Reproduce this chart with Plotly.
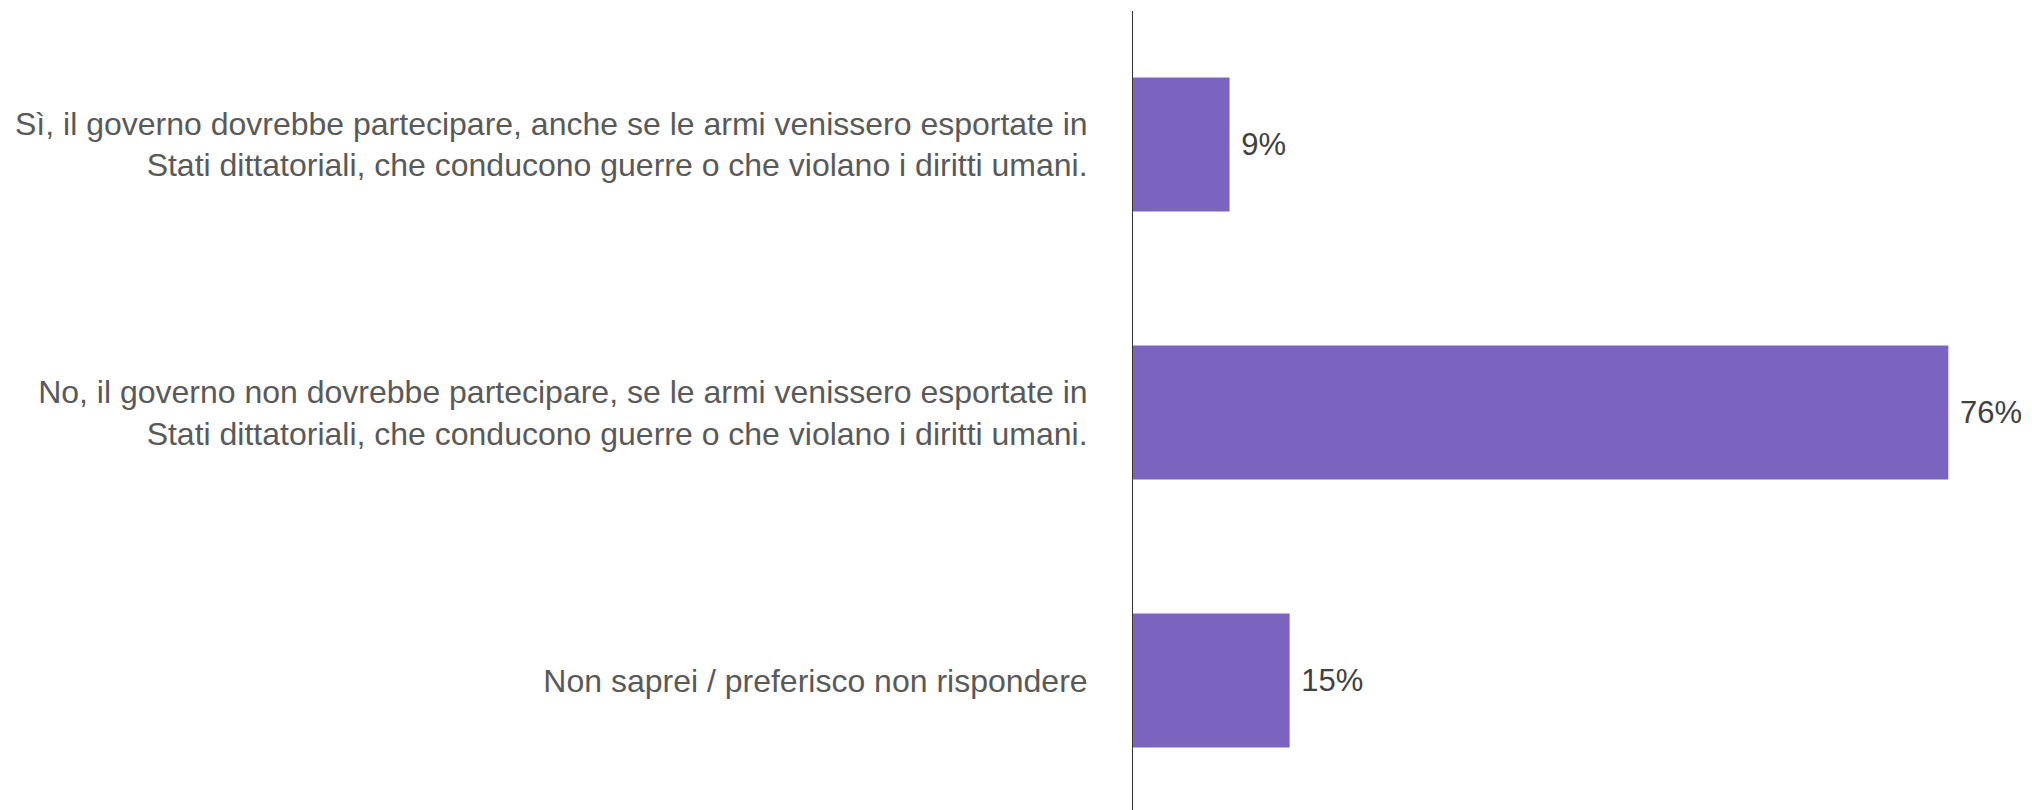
import plotly.graph_objects as go

categories = [
    "Sì, il governo dovrebbe partecipare, anche se le armi venissero esportate in<br>Stati dittatoriali, che conducono guerre o che violano i diritti umani.",
    "No, il governo non dovrebbe partecipare, se le armi venissero esportate in<br>Stati dittatoriali, che conducono guerre o che violano i diritti umani.",
    "Non saprei / preferisco non rispondere",
]
values = [9.0, 76.0, 14.6]
value_labels = ["9%", "76%", "15%"]

fig = go.Figure(go.Bar(
    x=values,
    y=categories,
    orientation="h",
    marker=dict(color="#7B64BF", line=dict(width=0)),
    text=["\u00a0" + t for t in value_labels],
    textposition="outside",
    cliponaxis=False,
    textfont=dict(family="Liberation Sans, Arial, sans-serif", size=31, color="#404040"),
))

fig.update_layout(
    width=2032,
    height=810,
    margin=dict(l=1133, r=0, t=11, b=0),
    paper_bgcolor="white",
    plot_bgcolor="white",
    bargap=0.5,
    showlegend=False,
    font=dict(family="Liberation Sans, Arial, sans-serif"),
    xaxis=dict(range=[0, 83.8], visible=False, showgrid=False, zeroline=False),
    yaxis=dict(
        range=[2.483, -0.498],
        showgrid=False,
        zeroline=False,
        showline=True,
        linecolor="#333333",
        linewidth=1,
        ticks="",
        automargin=False,
        ticklabelstandoff=38,
        tickfont=dict(family="Liberation Sans, Arial, sans-serif", size=32, color="#595959"),
    ),
)

fig.write_html(
    "out.html",
    config={"displayModeBar": False},
    post_script="document.body.style.margin='0';document.body.style.overflow='hidden';",
)
